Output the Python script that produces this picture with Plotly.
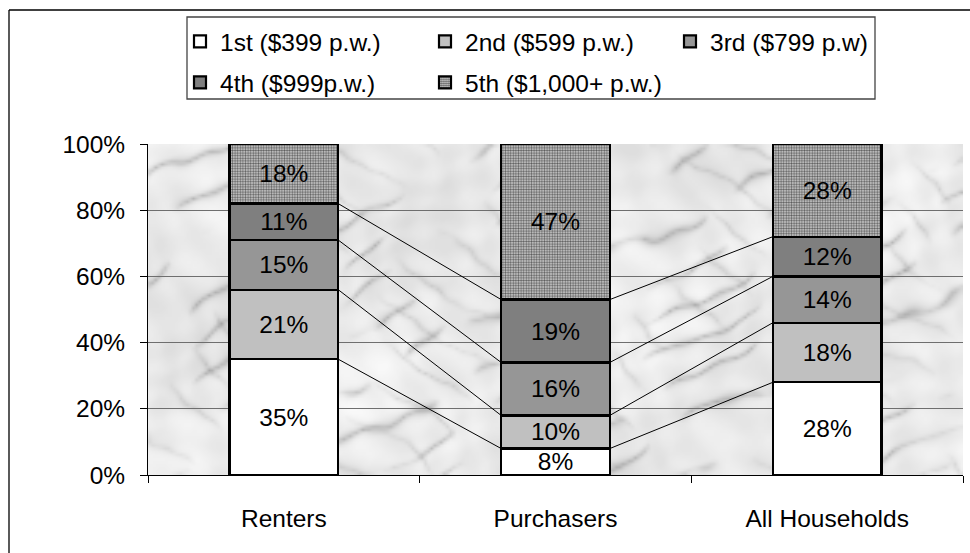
import base64
import struct
import zlib

import numpy as np
import plotly.graph_objects as go

# ---- data -----------------------------------------------------------------
categories = ["Renters", "Purchasers", "All Households"]
series_names = [
    "1st ($399 p.w.)",
    "2nd ($599 p.w.)",
    "3rd ($799 p.w)",
    "4th ($999p.w.)",
    "5th ($1,000+ p.w.)",
]
first_quintile = [35, 8, 28]
second_quintile = [21, 10, 18]
third_quintile = [15, 16, 14]
fourth_quintile = [11, 19, 12]
fifth_quintile = [18, 47, 28]
y_tick_values = [0, 20, 40, 60, 80, 100]
y_tick_labels = ["0%", "20%", "40%", "60%", "80%", "100%"]

series_values = [first_quintile, second_quintile, third_quintile,
                 fourth_quintile, fifth_quintile]

# ---- styling --------------------------------------------------------------
FONT = "Liberation Sans, Arial, sans-serif"
FONT_SIZE = 24.5
BAR_WIDTH = 0.4
fill_colors = ["#ffffff", "#c0c0c0", "#969696", "#7f7f7f", "#a8a8a8"]
legend_rows = ["legend", "legend", "legend", "legend2", "legend2"]


def marble_texture(w, h):
    """Soft procedural grey marble built from layered sine turbulence."""
    yy, xx = np.mgrid[0:h, 0:w].astype(float)
    u = xx / w * 9.0
    v = yy / h * 3.7
    turb = (0.90 * np.sin(1.3 * u + 2.1 * v + 0.4)
            + 0.55 * np.sin(2.9 * u - 1.7 * v + 1.9)
            + 0.30 * np.sin(5.3 * u + 4.1 * v + 0.7)
            + 0.15 * np.sin(9.7 * u - 7.3 * v + 2.3)
            + 0.08 * np.sin(19.3 * u + 15.1 * v + 0.5))
    # streaks rising to the right, broken into shorter pieces
    phase = 3.4 * (u + 1.9 * v) + 0.8 * turb
    vein = (1.0 - np.abs(np.sin(phase))) ** 4
    mask = np.clip(0.35 + 0.9 * np.sin(2.2 * u - 2.9 * v + 1.5 * turb), 0, 1)
    # fainter cross streaks
    phase2 = 4.1 * (u - 1.3 * v) + 0.7 * turb + 1.0
    vein2 = (1.0 - np.abs(np.sin(phase2))) ** 5
    mask2 = np.clip(0.1 + 0.9 * np.sin(2.7 * u + 1.6 * v + 2.0 + turb), 0, 1)
    # mottling
    mottle = (np.sin(7.9 * u + 5.3 * v + 2.0 * turb)
              * np.sin(6.1 * u - 8.7 * v + 1.0)) * 6.0
    cloud = (4.0 * np.sin(0.7 * u + 1.9 * v + 0.9)
             + 3.0 * np.sin(1.9 * u - 1.1 * v)
             + 2.5 * np.sin(4.3 * u + 3.1 * v + 1.7))
    g = 235.0 + cloud + mottle - 52.0 * vein * mask - 30.0 * vein2 * mask2
    return np.clip(g, 160, 250).astype(np.uint8)


def png_data_uri(arr):
    h, w = arr.shape
    raw = b"".join(b"\x00" + arr[r].tobytes() for r in range(h))

    def chunk(tag, data):
        body = tag + data
        return (struct.pack(">I", len(data)) + body
                + struct.pack(">I", zlib.crc32(body) & 0xFFFFFFFF))

    png = (b"\x89PNG\r\n\x1a\n"
           + chunk(b"IHDR", struct.pack(">IIBBBBB", w, h, 8, 0, 0, 0, 0))
           + chunk(b"IDAT", zlib.compress(raw, 9))
           + chunk(b"IEND", b""))
    return "data:image/png;base64," + base64.b64encode(png).decode("ascii")


# ---- figure ---------------------------------------------------------------
x_pos = list(range(len(categories)))
fig = go.Figure()

for name, vals, color, leg in zip(series_names, series_values, fill_colors,
                                  legend_rows):
    pattern = None
    if name.startswith("5th"):
        pattern = dict(shape=".", size=2.6, solidity=0.5,
                       fgcolor="#5e5e5e", bgcolor="#d6d6d6", fillmode="replace")
    fig.add_trace(go.Bar(
        x=x_pos, y=vals, name=name, width=BAR_WIDTH, legend=leg,
        marker=dict(color=color, line=dict(color="black", width=2.2),
                    pattern=pattern),
        text=[f"{v}%" for v in vals],
        textposition="inside", insidetextanchor="middle", textangle=0,
        textfont=dict(family=FONT, size=FONT_SIZE, color="black"),
        hoverinfo="skip",
    ))

# series lines joining each segment top between neighbouring bars
cum = np.cumsum(np.array(series_values), axis=0)
line_x, line_y = [], []
for k in range(len(series_values) - 1):
    for i in range(len(categories) - 1):
        line_x += [i + BAR_WIDTH / 2, i + 1 - BAR_WIDTH / 2, None]
        line_y += [cum[k][i], cum[k][i + 1], None]
fig.add_trace(go.Scatter(
    x=line_x, y=line_y, mode="lines", line=dict(color="black", width=1),
    showlegend=False, hoverinfo="skip",
))

W, H = 970, 553
L, R, T, B = 148, 7, 144, 78
pw, ph = W - L - R, H - T - B


def px_x(p):
    return (p - L) / pw


def px_y(p):
    return (T + ph - p) / ph


fig.add_layout_image(dict(
    source=png_data_uri(marble_texture(260, 106)),
    xref="x domain", yref="y domain", x=0, y=1, sizex=1, sizey=1,
    xanchor="left", yanchor="top", sizing="stretch", layer="below",
))

# chart-area frame: left edge and top edge
fig.add_shape(type="line", xref="paper", yref="paper",
              x0=px_x(9), x1=px_x(9), y0=px_y(H + 20), y1=px_y(10),
              line=dict(color="black", width=1.3))
fig.add_shape(type="line", xref="paper", yref="paper",
              x0=px_x(9), x1=px_x(W + 20), y0=px_y(10), y1=px_y(10),
              line=dict(color="black", width=1.3))
# legend box
fig.add_shape(type="rect", xref="paper", yref="paper",
              x0=px_x(187), x1=px_x(875), y0=px_y(99), y1=px_y(17),
              line=dict(color="#444444", width=1.3), fillcolor="white")

legend_style = dict(
    orientation="h", x=px_x(180), xanchor="left", yanchor="top",
    bgcolor="rgba(0,0,0,0)", borderwidth=0,
    font=dict(family=FONT, size=FONT_SIZE, color="black"),
    entrywidth=200, entrywidthmode="pixels", traceorder="normal",
    itemclick=False, itemdoubleclick=False,
)

fig.update_layout(
    width=W, height=H,
    margin=dict(l=L, r=R, t=T, b=B, pad=0),
    paper_bgcolor="white", plot_bgcolor="#ebebeb",
    barmode="stack", bargap=0.6,
    font=dict(family=FONT, size=FONT_SIZE, color="black"),
    uniformtext=dict(mode="show", minsize=FONT_SIZE),
    showlegend=True,
    legend=dict(legend_style, y=px_y(19)),
    legend2=dict(legend_style, y=px_y(60)),
    xaxis=dict(
        range=[-0.5, 2.5], tickmode="array", tickvals=x_pos, ticktext=categories,
        ticks="", showgrid=False, zeroline=False,
        showline=True, linecolor="black", linewidth=1,
        ticklabelstandoff=22,
        minor=dict(tickmode="array", tickvals=[-0.5, 0.5, 1.5, 2.5],
                   ticks="outside", ticklen=7, tickcolor="black", tickwidth=1,
                   showgrid=False),
        fixedrange=True,
    ),
    yaxis=dict(
        range=[0, 100], tickmode="array", tickvals=y_tick_values,
        ticktext=y_tick_labels, ticks="outside", ticklen=7,
        tickcolor="black", tickwidth=1,
        showgrid=True, gridcolor="#6e6e6e", gridwidth=1, zeroline=False,
        showline=True, linecolor="black", linewidth=1,
        ticklabelstandoff=10, fixedrange=True,
    ),
)

fig.write_html("out.html", config={"displayModeBar": False})
